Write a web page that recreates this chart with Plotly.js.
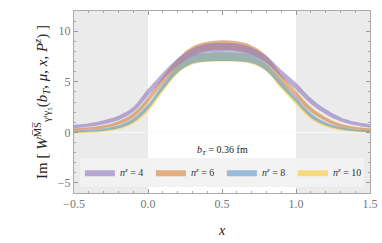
<!DOCTYPE html>
<html>
<head>
<meta charset="utf-8">
<script src="https://cdn.plot.ly/plotly-3.0.1.min.js"></script>
<style>html,body{margin:0;padding:0;background:#fff;}#chart{width:382px;height:243px;}</style>
</head>
<body>
<div id="chart"></div>
<script>
// x grid of the curves
var xVals = [-0.5,-0.4,-0.3,-0.2,-0.1,0.0,0.1,0.2,0.3,0.4,0.5,0.6,0.7,0.8,0.9,1.0,1.1,1.2,1.3,1.4,1.5];

// n^z = 4 band
var lo4 = [0.40,0.55,0.80,1.20,2.00,3.60,5.20,6.60,7.50,7.90,7.95,7.92,7.60,6.85,5.50,4.20,2.80,1.80,1.10,0.70,0.45];
var hi4 = [0.75,0.90,1.20,1.65,2.50,4.30,5.90,7.30,8.30,8.75,8.85,8.78,8.40,7.55,6.20,4.90,3.40,2.30,1.50,1.05,0.80];
// n^z = 6 band
var lo6 = [0.15,0.25,0.40,0.75,1.45,2.90,4.80,6.50,7.60,8.05,8.15,8.08,7.70,6.80,5.00,3.50,2.00,1.10,0.55,0.30,0.15];
var hi6 = [0.40,0.50,0.70,1.10,1.90,3.50,5.50,7.30,8.50,8.95,9.10,9.00,8.60,7.60,5.70,4.10,2.50,1.50,0.85,0.55,0.40];
// n^z = 8 band
var lo8 = [0.00,0.05,0.15,0.40,1.00,2.30,4.20,5.90,6.80,7.00,7.05,7.02,6.85,6.10,4.50,3.00,1.50,0.70,0.30,0.10,0.00];
var hi8 = [0.20,0.25,0.40,0.70,1.40,2.80,4.80,6.60,7.60,7.90,7.95,7.92,7.65,6.80,5.10,3.50,1.90,1.00,0.55,0.30,0.20];
// n^z = 10 band
var lo10 = [-0.10,-0.05,0.05,0.30,0.85,2.05,4.00,5.80,6.70,6.95,7.00,6.97,6.75,6.00,4.30,2.75,1.30,0.55,0.20,0.05,-0.05];
var hi10 = [0.10,0.15,0.25,0.55,1.20,2.55,4.60,6.50,7.50,7.85,7.90,7.87,7.55,6.70,4.90,3.20,1.70,0.85,0.45,0.25,0.15];

var seriesNames = ['<i>n</i><sup><i>z</i></sup> = 4','<i>n</i><sup><i>z</i></sup> = 6','<i>n</i><sup><i>z</i></sup> = 8','<i>n</i><sup><i>z</i></sup> = 10'];
var xTickVals = [-0.5,0,0.5,1,1.5];
var xTickText = ['\u22120.5','0.0','0.5','1.0','1.5'];
var yTickVals = [-5,0,5,10];
var yTickText = ['\u22125','0','5','10'];

var fills = ['rgba(140,120,190,0.6)','rgba(210,130,60,0.62)','rgba(90,150,200,0.6)','rgba(250,200,50,0.6)'];
var bands = [[lo4,hi4],[lo6,hi6],[lo8,hi8],[lo10,hi10]];

var traces = [];
// draw n=10 first so that n=4 sits on top
var order = [3,2,1,0];
order.forEach(function(i){
  traces.push({x:xVals, y:bands[i][0], type:'scatter', mode:'lines', line:{width:0, shape:'spline', color:fills[i]},
    showlegend:false, hoverinfo:'skip', legendgroup:'g'+i});
  traces.push({x:xVals, y:bands[i][1], type:'scatter', mode:'lines', fill:'tonexty', fillcolor:fills[i],
    line:{width:0, shape:'spline', color:fills[i]}, name:seriesNames[i], legendgroup:'g'+i, legendrank:i+1});
});

var serif = 'Liberation Serif, DejaVu Serif, serif';
var layout = {
  width:382, height:243,
  margin:{l:74, r:12, t:11, b:50},
  paper_bgcolor:'#ffffff', plot_bgcolor:'#ffffff',
  showlegend:true,
  legend:{orientation:'h', x:0.02, xanchor:'left', y:0.035, yanchor:'bottom',
    bgcolor:'rgba(242,242,242,0.95)', borderwidth:0,
    font:{family:serif, size:10, color:'#333'},
    entrywidth:26, entrywidthmode:'pixels', itemwidth:30, traceorder:'normal'},
  xaxis:{range:[-0.5,1.5], tickvals:xTickVals, ticktext:xTickText, showgrid:false, zeroline:false,
    ticks:'inside', ticklen:4, tickcolor:'#999', showline:true, linecolor:'#aaa', linewidth:1, mirror:'allticks',
    minor:{dtick:0.1, ticks:'inside', ticklen:2, tickcolor:'#aaa', showgrid:false},
    tickfont:{family:serif, size:12, color:'#777'},
    title:{text:'<i>x</i>', font:{family:serif, size:14, color:'#222'}, standoff:14}},
  yaxis:{range:[-6,12], tickvals:yTickVals, ticktext:yTickText, showgrid:false, zeroline:false,
    ticks:'inside', ticklen:4, tickcolor:'#999', showline:true, linecolor:'#aaa', linewidth:1, mirror:'allticks',
    minor:{dtick:1, ticks:'inside', ticklen:2, tickcolor:'#aaa', showgrid:false},
    tickfont:{family:serif, size:12, color:'#777'},
    title:{text:'Im [ <i>W</i><sup>M\u0305S\u0305</sup><sub>\u03b3\u1d57\u03b3\u2085</sub>(<i>b</i><sub><i>T</i></sub>, <i>\u03bc</i>, <i>x</i>, <i>P</i><sup><i>z</i></sup>) ]',
      font:{family:serif, size:15, color:'#222'}, standoff:6}},
  shapes:[
    {type:'rect', xref:'x', yref:'paper', x0:-0.5, x1:0, y0:0, y1:1, fillcolor:'#ebebeb', line:{width:0}, layer:'below'},
    {type:'rect', xref:'x', yref:'paper', x0:1, x1:1.5, y0:0, y1:1, fillcolor:'#ebebeb', line:{width:0}, layer:'below'},
    {type:'line', xref:'paper', yref:'y', x0:0, x1:1, y0:0, y1:0, line:{color:'rgba(250,250,250,0.9)', width:1}, layer:'below'}
  ],
  annotations:[
    {xref:'x', yref:'y', x:0.5, y:-1.8, text:'<i>b</i><sub><i>T</i></sub> = 0.36 fm', showarrow:false,
     font:{family:serif, size:10, color:'#222'}}
  ]
};

Plotly.newPlot('chart', traces, layout, {displayModeBar:false, staticPlot:true});
</script>
</body>
</html>
